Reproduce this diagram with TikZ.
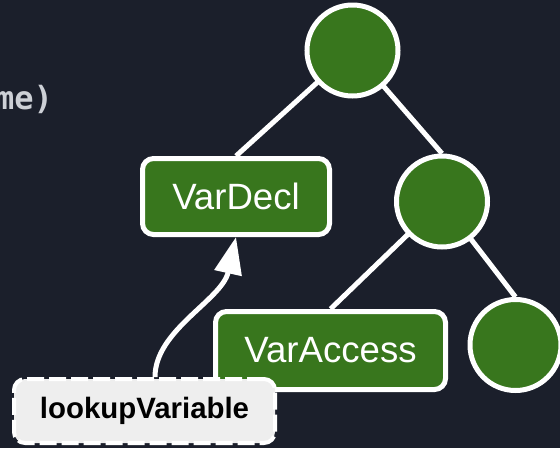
\documentclass[tikz,border=0pt]{standalone}
\usepackage{fontspec}
\setmainfont{Liberation Sans}
\newfontfamily\codefont{DejaVu Sans Mono}
\usetikzlibrary{arrows.meta}
\definecolor{bgnavy}{HTML}{1B1F2B}
\definecolor{leafgreen}{HTML}{38761D}
\definecolor{paper}{HTML}{EEEEEE}
\definecolor{codegrey}{HTML}{CDD0D6}
\pgfdeclarelayer{backdrop}
\pgfdeclarelayer{edges}
\pgfsetlayers{backdrop,edges,main}
\tikzset{
  treenode/.style={circle, draw=white, line width=5pt, fill=leafgreen,
    inner sep=0pt, minimum size=91pt},
  astbox/.style={rectangle, rounded corners=11pt, draw=white, line width=5pt,
    fill=leafgreen, text=white, inner sep=0pt, font=\fontsize{36.6}{40}\selectfont},
  fnbox/.style={rectangle, rounded corners=11pt, draw=white, line width=4pt,
    dash pattern=on 17pt off 5pt, fill=paper, text=black, inner sep=0pt,
    font=\bfseries\fontsize{29.4}{32}\selectfont},
  treeedge/.style={draw=white, line width=5pt},
  lookuparrow/.style={draw=white, line width=5pt,
    -{Triangle[length=37pt,width=27pt]}}
}
\begin{document}
\begin{tikzpicture}[x=1pt,y=-1pt]
  \useasboundingbox (0,0) rectangle (560,448);
  \begin{pgfonlayer}{backdrop}
    \fill[bgnavy] (0,0) rectangle (560,448);
  \end{pgfonlayer}

  % fragment of source code at the left edge
  \node[anchor=base east, inner sep=0pt, text=codegrey,
        font=\codefont\bfseries\fontsize{32}{36}\selectfont] (code) at (53,109) {me)};

  % syntax tree
  \node[treenode] (root) at (352.5,50.5) {};
  \node[treenode] (mid) at (442,201.5) {};
  \node[treenode] (leaf) at (515.5,345) {};
  \node[astbox, minimum width=187pt, minimum height=76pt] (vd) at (236,196.5) {VarDecl};
  \node[astbox, minimum width=230pt, minimum height=78pt] (va) at (330.5,350.5) {VarAccess};

  \begin{pgfonlayer}{edges}
    \draw[treeedge] (root.center) -- (vd.north);
    \draw[treeedge] (root.center) -- (mid.north);
    \draw[treeedge] (mid.center) -- (va.north);
    \draw[treeedge] (mid.center) -- (leaf.north);
  \end{pgfonlayer}

  % function that resolves the access
  \node[fnbox, minimum width=261pt, minimum height=64pt] (lu) at (144.5,411) {lookupVariable};
  \draw[lookuparrow] ([xshift=10.5pt]lu.north) .. controls (155,330) and (222,300) .. (vd.south);
\end{tikzpicture}
\end{document}
